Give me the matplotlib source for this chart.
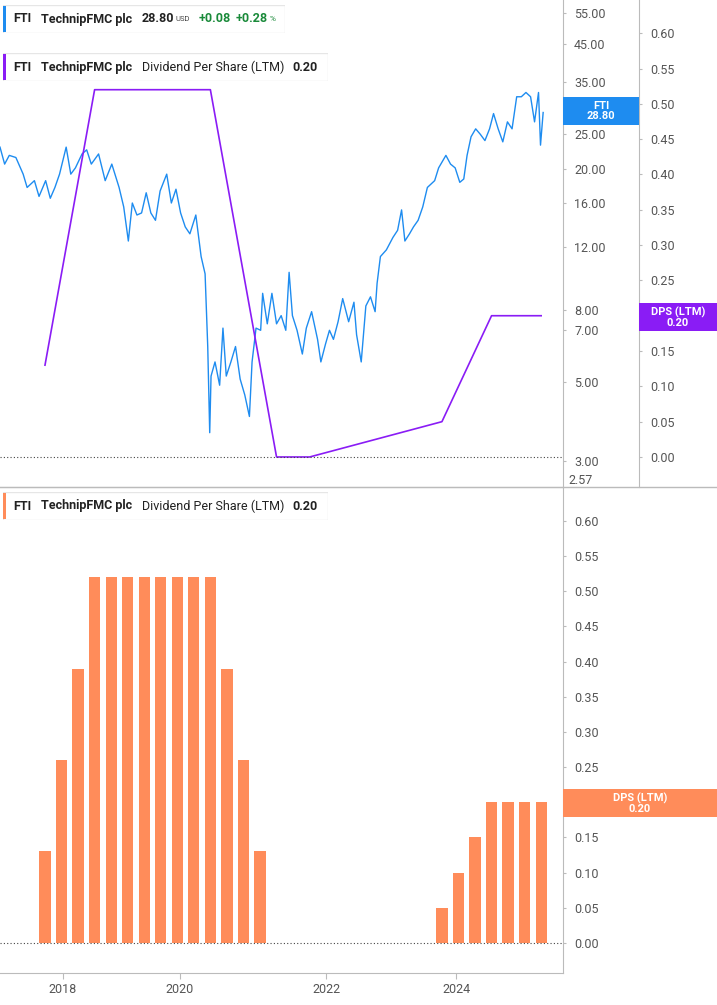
import matplotlib
matplotlib.use("Agg")
import matplotlib.pyplot as plt
import numpy as np

plt.rcParams['font.family'] = 'Roboto'

# FTI share price, decimal years
price_dates = [2017.07, 2017.14, 2017.21, 2017.31, 2017.42, 2017.48, 2017.59, 2017.66, 2017.76, 2017.83,
               2017.90, 2017.97, 2018.07, 2018.14, 2018.21, 2018.31, 2018.38, 2018.45, 2018.56, 2018.66,
               2018.76, 2018.87, 2018.94, 2019.01, 2019.07, 2019.14, 2019.21, 2019.28, 2019.35, 2019.42,
               2019.49, 2019.59, 2019.66, 2019.73, 2019.80, 2019.87, 2019.94, 2020.03, 2020.11, 2020.17,
               2020.21, 2020.24, 2020.26, 2020.32, 2020.39, 2020.44, 2020.49, 2020.56, 2020.63, 2020.70,
               2020.77, 2020.84, 2020.88, 2020.94, 2021.01, 2021.04, 2021.11, 2021.18, 2021.25, 2021.32,
               2021.39, 2021.44, 2021.49, 2021.56, 2021.64, 2021.70, 2021.78, 2021.87, 2021.92, 2021.99,
               2022.05, 2022.11, 2022.18, 2022.25, 2022.34, 2022.42, 2022.46, 2022.53, 2022.60, 2022.67,
               2022.74, 2022.77, 2022.82, 2022.91, 2023.01, 2023.08, 2023.14, 2023.19, 2023.26, 2023.32,
               2023.39, 2023.46, 2023.53, 2023.64, 2023.70, 2023.81, 2023.88, 2023.95, 2024.02, 2024.08,
               2024.13, 2024.19, 2024.26, 2024.33, 2024.40, 2024.47, 2024.53, 2024.60, 2024.67, 2024.74,
               2024.81, 2024.88, 2024.95, 2025.02, 2025.09, 2025.15, 2025.21, 2025.24, 2025.28]
price = [23.0, 20.6, 21.8, 21.5, 19.3, 17.7, 18.5, 16.7, 18.5, 16.5,
         17.7, 19.3, 23.0, 19.3, 20.1, 22.0, 22.6, 20.6, 22.0, 18.5,
         20.6, 17.7, 15.6, 12.5, 16.0, 14.8, 15.0, 17.1, 15.0, 14.3,
         17.3, 19.3, 16.0, 17.5, 15.0, 13.7, 13.1, 14.8, 11.3, 10.1,
         6.3, 3.6, 5.2, 5.7, 4.9, 7.1, 5.2, 5.7, 6.3, 5.1,
         4.6, 4.0, 5.7, 7.1, 7.0, 8.9, 7.3, 8.9, 7.3, 7.7,
         7.0, 10.2, 7.7, 7.0, 6.0, 7.1, 7.9, 6.6, 5.7, 6.4,
         7.0, 6.6, 7.4, 8.6, 7.4, 8.4, 6.8, 5.7, 8.2, 8.7,
         7.9, 9.5, 11.3, 11.8, 12.8, 13.4, 15.3, 12.5, 13.1, 13.7,
         14.3, 15.6, 17.7, 18.5, 20.1, 21.8, 20.6, 20.1, 18.3, 18.7,
         21.8, 24.6, 25.9, 25.0, 24.0, 25.9, 28.6, 25.9, 23.8, 27.1,
         25.9, 31.9, 31.9, 32.8, 31.9, 27.1, 32.8, 23.3, 28.8]

# dividend per share (LTM), quarterly
dps_dates = [2017.75, 2018.00, 2018.25, 2018.50, 2018.75, 2019.00, 2019.25, 2019.50, 2019.75, 2020.00,
             2020.25, 2020.50, 2020.75, 2021.00,
             2023.75, 2024.00, 2024.25, 2024.50, 2024.75, 2025.00, 2025.25]
dps = [0.13, 0.26, 0.39, 0.52, 0.52, 0.52, 0.52, 0.52, 0.52, 0.52,
       0.52, 0.39, 0.26, 0.13,
       0.05, 0.10, 0.15, 0.20, 0.20, 0.20, 0.20]

dps_line_dates = [2017.75, 2018.50, 2020.25, 2021.25, 2021.75, 2023.75, 2024.50, 2025.25]
dps_line = [0.13, 0.52, 0.52, 0.0, 0.0, 0.05, 0.20, 0.20]

price_ticks = [3, 5, 7, 8, 12, 16, 20, 25, 35, 45, 55]
dps_ticks = [0.0, 0.05, 0.10, 0.15, 0.20, 0.25, 0.30, 0.35, 0.40, 0.45, 0.50, 0.55, 0.60]
year_pos = [2018.02, 2019.79, 2022.0, 2023.97]
year_labels = ['2018', '2020', '2022', '2024']

BLUE = '#1e8cf0'
PURPLE = '#8a1cf5'
ORANGE = '#ff8c5a'
GREY = '#555555'
SPINE = '#bbbbbb'

fig = plt.figure(figsize=(7.17, 10.05), dpi=100)
W, H = 717, 1005
x0, x1 = 2017.07, 2025.58

def box(x, y, w, h):
    return [x / W, 1 - (y + h) / H, w / W, h / H]

# ---- top panel ----
ax = fig.add_axes(box(0, 0, 563, 487))
ax.plot(price_dates, price, color=BLUE, lw=1)
ax2 = ax.twinx()

ax.set_yscale('log')
ax.set_ylim(2.53, 59.8)
ax.set_xlim(x0, x1)
ax.yaxis.tick_right()
ax.yaxis.set_label_position('right')
ax.set_yticks(price_ticks)
ax.set_yticklabels(['%.2f' % v for v in price_ticks])
ax.yaxis.set_minor_locator(matplotlib.ticker.NullLocator())
ax.tick_params(axis='y', which='both', left=False, labelleft=False, right=True, labelright=True,
               length=2, color=SPINE, labelcolor=GREY, labelsize=9, pad=6)
ax.set_xticks([])
for s in ['top', 'left', 'bottom']:
    ax.spines[s].set_visible(False)
ax.spines['right'].set_color(SPINE)
ax.text(1.01, 0.0, '2.57', transform=ax.transAxes, fontsize=9, color=GREY, va='bottom')

ax2.plot(dps_line_dates, dps_line, color=PURPLE, lw=1.2)
ax2.axhline(0, color='#444444', lw=0.8, ls=(0, (1, 2)))
ax2.set_ylim(-0.0425, 0.647)
ax2.set_yticks(dps_ticks)
ax2.set_yticklabels(['%.2f' % v for v in dps_ticks])
ax2.spines['right'].set_position(('axes', 639 / 563))
ax2.spines['right'].set_color(SPINE)
for s in ['top', 'left', 'bottom']:
    ax2.spines[s].set_visible(False)
ax2.tick_params(axis='y', length=2, color=SPINE, labelcolor=GREY, labelsize=9, pad=6)

# legends
def legend_box(x, y, w, h, color, parts):
    lax = fig.add_axes(box(x, y, w, h))
    lax.set_xlim(0, w); lax.set_ylim(h, 0); lax.axis('off')
    lax.add_patch(plt.Rectangle((0, 0), w, h, fc='white', ec='#e6e6e6', lw=1))
    lax.add_patch(plt.Rectangle((0, 1), 3, h - 2, fc=color, ec='none'))
    for px, s, c, sz, wt in parts:
        lax.text(px, h / 2, s, color=c, fontsize=sz, fontweight=wt, va='center')

legend_box(3, 5, 282, 28, BLUE, [(10, 'FTI', '#222222', 9, 'bold'), (38, 'TechnipFMC plc', '#222222', 9, 'bold'),
                                 (139, '28.80', '#222222', 9, 'bold'), (173, 'USD', '#444444', 5.5, 'normal'),
                                 (196, '+0.08', '#1a8a3a', 9, 'bold'), (233, '+0.28', '#1a8a3a', 9, 'bold'),
                                 (267, '%', '#1a8a3a', 6, 'normal')])
legend_box(3, 53, 325, 28, PURPLE, [(10, 'FTI', '#222222', 9, 'bold'), (38, 'TechnipFMC plc', '#222222', 9, 'bold'),
                                   (139, 'Dividend Per Share (LTM)', '#222222', 9, 'normal'),
                                   (289, '0.20', '#222222', 9, 'bold')])

# value tags
def tag(x, y, w, h, color, text):
    tax = fig.add_axes(box(x, y, w, h))
    tax.axis('off')
    tax.add_patch(plt.Rectangle((0, 0), 1, 1, fc=color, ec='none', transform=tax.transAxes))
    tax.text(0.5, 0.5, text, color='white', fontsize=8, fontweight='bold', ha='center', va='center',
             transform=tax.transAxes, linespacing=1.0)

tag(563, 97, 76, 28, BLUE, 'FTI\n28.80')
tag(639, 303, 78, 28, PURPLE, 'DPS (LTM)\n0.20')

# ---- bottom panel ----
bx = fig.add_axes(box(0, 487, 563, 486))
bx.bar(dps_dates, dps, width=0.17, color=ORANGE)
bx.axhline(0, color='#444444', lw=0.8, ls=(0, (1, 2)))
bx.set_ylim(-0.0427, 0.648)
bx.set_xlim(x0, x1)
bx.yaxis.tick_right()
bx.set_yticks(dps_ticks)
bx.set_yticklabels(['%.2f' % v for v in dps_ticks])
bx.tick_params(axis='y', length=2, color=SPINE, labelcolor=GREY, labelsize=9, pad=6)
bx.set_xticks(year_pos)
bx.set_xticklabels(year_labels)
bx.tick_params(axis='x', length=4, color=SPINE, labelcolor=GREY, labelsize=9)
bx.spines['top'].set_color(SPINE)
bx.spines['left'].set_visible(False)
bx.spines['right'].set_color(SPINE)
bx.spines['bottom'].set_color(SPINE)

legend_box(3, 492, 325, 28, ORANGE, [(10, 'FTI', '#222222', 9, 'bold'), (38, 'TechnipFMC plc', '#222222', 9, 'bold'),
                                    (139, 'Dividend Per Share (LTM)', '#222222', 9, 'normal'),
                                    (289, '0.20', '#222222', 9, 'bold')])
tag(563, 789, 154, 28, ORANGE, 'DPS (LTM)\n0.20')

fig.add_artist(plt.Line2D([0, 1], [1 - 487 / H] * 2, color=SPINE, lw=1))

fig.savefig('out.png', dpi=100, facecolor='white')
